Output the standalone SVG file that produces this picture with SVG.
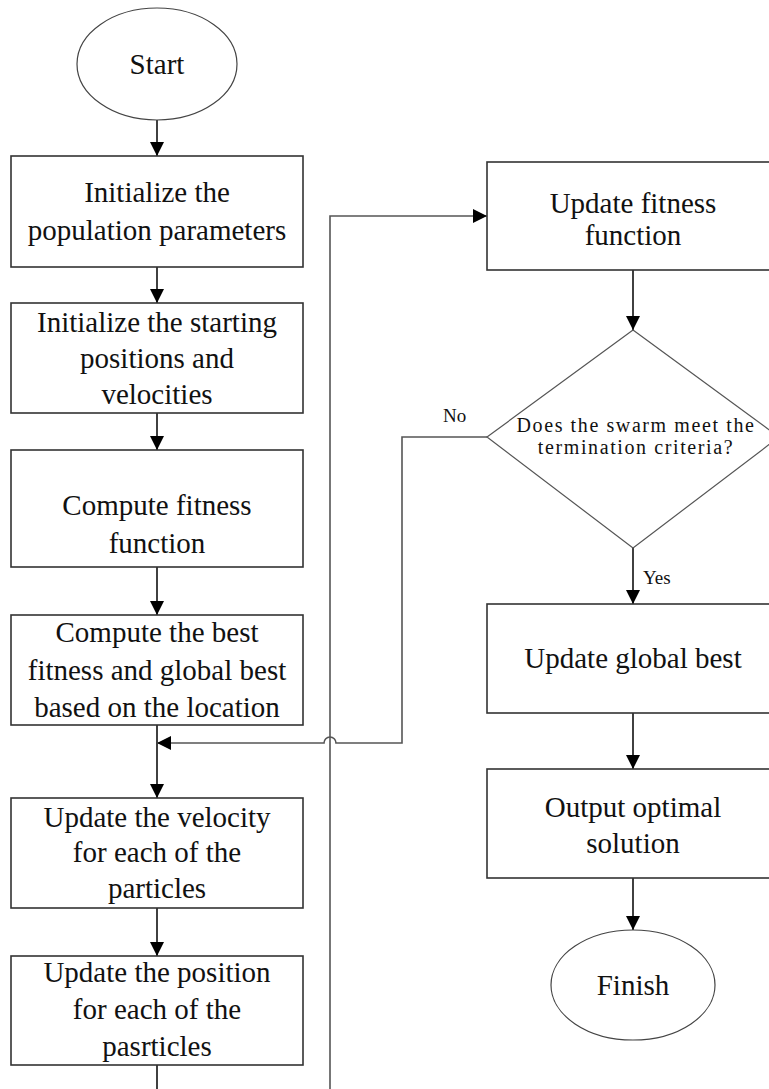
<svg xmlns="http://www.w3.org/2000/svg" width="769" height="1089" viewBox="0 0 769 1089">
<style>
.box{fill:#fff;stroke:#333;stroke-width:1.6}
.term{fill:#fff;stroke:#444;stroke-width:1.2}
.dia{fill:#fff;stroke:#555;stroke-width:1.2}
.t{font-family:'Liberation Serif','Times New Roman','DejaVu Serif',serif;font-size:29px;fill:#111;text-anchor:middle}
.ts{font-family:'Liberation Serif','Times New Roman','DejaVu Serif',serif;font-size:20px;fill:#111;text-anchor:middle;letter-spacing:1.6px}
.lbl{font-family:'Liberation Serif','Times New Roman','DejaVu Serif',serif;font-size:19px;fill:#111}
.c{fill:none;stroke:#111;stroke-width:1.6}
.cg{fill:none;stroke:#555;stroke-width:1.6}
</style>
<defs>
<marker id="ah" viewBox="0 0 10 10" refX="10" refY="5" markerWidth="14" markerHeight="14" markerUnits="userSpaceOnUse" orient="auto">
<path d="M0,0 L10,5 L0,10 z" fill="#000"/>
</marker>
</defs>
<g id="connectors">
<line class="c" x1="157" y1="120" x2="157" y2="156" marker-end="url(#ah)"/>
<line class="c" x1="157" y1="267" x2="157" y2="303" marker-end="url(#ah)"/>
<line class="c" x1="157" y1="413" x2="157" y2="450" marker-end="url(#ah)"/>
<line class="c" x1="157" y1="567" x2="157" y2="615" marker-end="url(#ah)"/>
<line class="c" x1="157" y1="725" x2="157" y2="798" marker-end="url(#ah)"/>
<line class="c" x1="157" y1="908" x2="157" y2="956" marker-end="url(#ah)"/>
<line class="c" x1="157" y1="1065" x2="157" y2="1089"/>
<path class="cg" d="M330,1089 L330,216 L487,216" marker-end="url(#ah)"/>
<path class="cg" d="M487,437 L402,437 L402,743 L336,743 A6,6 0 0 0 324,743 L157,743" marker-end="url(#ah)"/>
<line class="c" x1="633" y1="270" x2="633" y2="330" marker-end="url(#ah)"/>
<line class="c" x1="633" y1="548" x2="633" y2="604" marker-end="url(#ah)"/>
<line class="c" x1="633" y1="713" x2="633" y2="769" marker-end="url(#ah)"/>
<line class="c" x1="633" y1="878" x2="633" y2="930" marker-end="url(#ah)"/>
<text class="lbl" x="443" y="422">No</text>
<text class="lbl" x="643" y="584">Yes</text>
</g>
<g id="start">
<ellipse class="term" cx="157" cy="64" rx="80" ry="56"/>
<text class="t" x="157" y="74">Start</text>
</g>
<g id="init-pop">
<rect class="box" x="11" y="156" width="292" height="111"/>
<text class="t" x="157" y="202">Initialize the</text>
<text class="t" x="157" y="240">population parameters</text>
</g>
<g id="init-pos">
<rect class="box" x="11" y="303" width="292" height="110"/>
<text class="t" x="157" y="332">Initialize the starting</text>
<text class="t" x="157" y="368">positions and</text>
<text class="t" x="157" y="404">velocities</text>
</g>
<g id="compute-fitness">
<rect class="box" x="11" y="450" width="292" height="117"/>
<text class="t" x="157" y="515">Compute fitness</text>
<text class="t" x="157" y="553">function</text>
</g>
<g id="compute-best">
<rect class="box" x="11" y="615" width="292" height="110"/>
<text class="t" x="157" y="642">Compute the best</text>
<text class="t" x="157" y="680">fitness and global best</text>
<text class="t" x="157" y="717">based on the location</text>
</g>
<g id="update-velocity">
<rect class="box" x="11" y="798" width="292" height="110"/>
<text class="t" x="157" y="827">Update the velocity</text>
<text class="t" x="157" y="862">for each of the</text>
<text class="t" x="157" y="898">particles</text>
</g>
<g id="update-position">
<rect class="box" x="11" y="956" width="292" height="109"/>
<text class="t" x="157" y="982">Update the position</text>
<text class="t" x="157" y="1019">for each of the</text>
<text class="t" x="157" y="1056">pasrticles</text>
</g>
<g id="update-fitness">
<rect class="box" x="487" y="162" width="292" height="108"/>
<text class="t" x="633" y="213">Update fitness</text>
<text class="t" x="633" y="245">function</text>
</g>
<g id="decision">
<polygon class="dia" points="633,330 779,437 633,548 487,437"/>
<text class="ts" x="636" y="432">Does the swarm meet the</text>
<text class="ts" x="636" y="454">termination criteria?</text>
</g>
<g id="update-global">
<rect class="box" x="487" y="604" width="292" height="109"/>
<text class="t" x="633" y="668">Update global best</text>
</g>
<g id="output">
<rect class="box" x="487" y="769" width="292" height="109"/>
<text class="t" x="633" y="817">Output optimal</text>
<text class="t" x="633" y="853">solution</text>
</g>
<g id="finish">
<ellipse class="term" cx="633" cy="985" rx="82" ry="55"/>
<text class="t" x="633" y="995">Finish</text>
</g>
</svg>
